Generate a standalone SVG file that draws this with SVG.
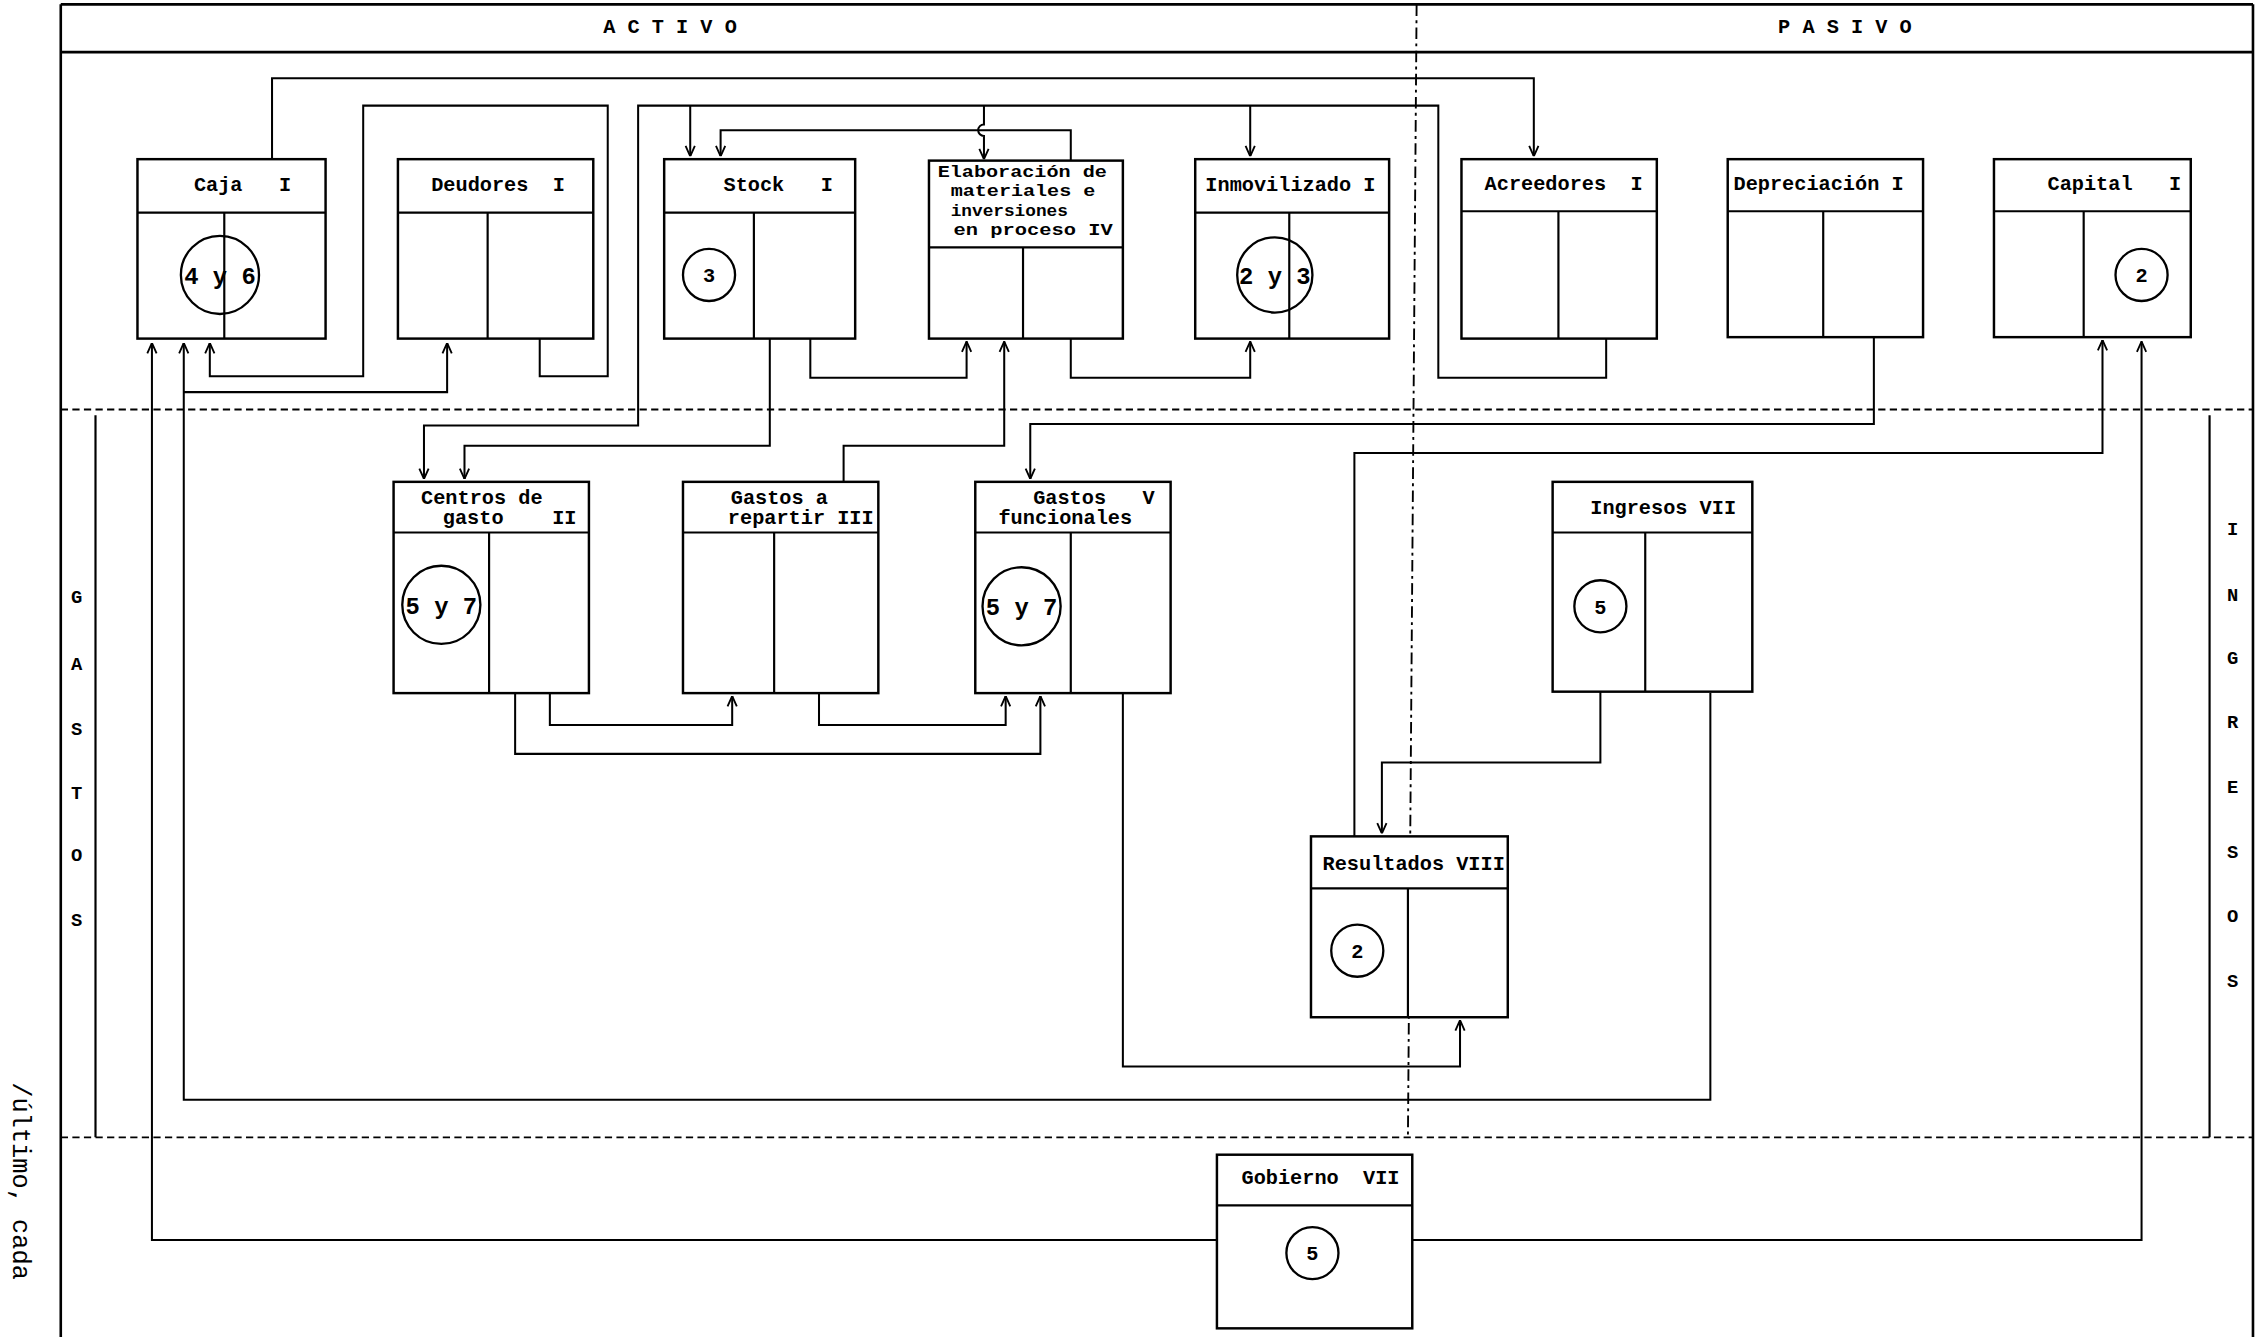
<svg xmlns="http://www.w3.org/2000/svg" width="2262" height="1337" viewBox="0 0 2262 1337">
<defs>
<style>
.frame{fill:none;stroke:#000;stroke-width:1.8}
.dash{fill:none;stroke:#000;stroke-width:1.3;stroke-dasharray:5 3}
.dashdot{fill:none;stroke:#000;stroke-width:1.3;stroke-dasharray:8 3 2 3}
.box{fill:#fff;stroke:#000;stroke-width:1.7}
.in{fill:none;stroke:#000;stroke-width:1.5}
.ln{fill:none;stroke:#000;stroke-width:1.4;marker-end:url(#ah)}
.cir{fill:none;stroke:#000;stroke-width:1.6}
.t{font-family:"Liberation Mono","DejaVu Sans Mono",monospace;font-weight:bold;font-size:14px;fill:#000;white-space:pre}
.e{font-family:"Liberation Mono","DejaVu Sans Mono",monospace;font-weight:bold;font-size:11.5px;fill:#000;white-space:pre}
.h{font-family:"Liberation Mono","DejaVu Sans Mono",monospace;font-weight:bold;font-size:14px;fill:#000;text-anchor:middle;white-space:pre}
.v{font-family:"Liberation Mono","DejaVu Sans Mono",monospace;font-weight:bold;font-size:13px;fill:#000;text-anchor:middle}
.cb{font-family:"Liberation Mono","DejaVu Sans Mono",monospace;font-weight:bold;font-size:16.5px;fill:#000;text-anchor:middle;white-space:pre}
.cs{font-family:"Liberation Mono","DejaVu Sans Mono",monospace;font-weight:bold;font-size:14px;fill:#000;text-anchor:middle}
.side{font-family:"Liberation Mono","DejaVu Sans Mono",monospace;font-size:17.5px;fill:#000;white-space:pre}
</style>
<marker id="ah" viewBox="0 0 10 10" refX="10" refY="5" markerWidth="8" markerHeight="8" orient="auto" markerUnits="userSpaceOnUse">
<path d="M1,1 L10,5 L1,9" fill="none" stroke="#000" stroke-width="1.6"/>
</marker>
</defs>
<rect width="2262" height="1337" fill="#fff"/>
<g transform="scale(1.447)">
<g id="frame">
<path class="frame" d="M42,3 H1557 M42,36 H1557 M42,3 V924 M1557,3 V924"/>
<path class="dash" d="M42,283 H1557 M42,786 H1557"/>
<path class="dashdot" d="M979,3 L973,786"/>
<path class="in" d="M66,287 V786 M1527,287 V786"/>
<text class="h" x="463" y="23">A C T I V O</text>
<text class="h" x="1275" y="23">P A S I V O</text>
<text class="v" x="53" y="417">G</text>
<text class="v" x="53" y="463">A</text>
<text class="v" x="53" y="508">S</text>
<text class="v" x="53" y="552">T</text>
<text class="v" x="53" y="595">O</text>
<text class="v" x="53" y="640">S</text>
<text class="v" x="1543" y="370">I</text>
<text class="v" x="1543" y="415">N</text>
<text class="v" x="1543" y="459">G</text>
<text class="v" x="1543" y="503">R</text>
<text class="v" x="1543" y="548">E</text>
<text class="v" x="1543" y="593">S</text>
<text class="v" x="1543" y="637">O</text>
<text class="v" x="1543" y="682">S</text>
<text class="side" transform="translate(9,748) rotate(90)">/último, cada</text>
</g>
<g id="connectors">
<path class="ln" d="M188,110 V54 H1060 V108"/>
<path class="ln" d="M373,234 V260 H420 V73 H251 V260 H145 V237"/>
<path class="ln" d="M1182,479 V760 H127 V237"/>
<path class="ln" d="M127,271 H309 V237"/>
<path class="ln" d="M841,857 H105 V237"/>
<path class="ln" d="M976,857 H1480 V236"/>
<path class="ln" d="M1110,234 V261 H994 V73 H441 V294 H293 V331"/>
<path class="ln" d="M477,73 V108"/>
<path class="ln" d="M680,73 V86 A4,4 0 0 0 680,94 V110"/>
<path class="ln" d="M864,73 V108"/>
<path class="ln" d="M740,112 V90 H498 V108"/>
<path class="ln" d="M560,234 V261 H668 V236"/>
<path class="ln" d="M740,234 V261 H864 V236"/>
<path class="ln" d="M532,234 V308 H321 V331"/>
<path class="ln" d="M583,333 V308 H694 V236"/>
<path class="ln" d="M1295,233 V293 H712 V331"/>
<path class="ln" d="M936,578 V313 H1453 V235"/>
<path class="ln" d="M1106,478 V527 H955 V576"/>
<path class="ln" d="M776,479 V737 H1009 V705"/>
<path class="ln" d="M380,479 V501 H506 V481"/>
<path class="ln" d="M356,479 V521 H719 V481"/>
<path class="ln" d="M566,479 V501 H695 V481"/>
</g>
<g id="caja">
<rect class="box" x="95" y="110" width="130" height="124"/>
<path class="in" d="M95,147 H225 M155,147 V234"/>
<text class="t" x="134" y="132">Caja   I</text>
<circle class="cir" cx="152" cy="190" r="27"/>
<text class="cb" x="152" y="196">4 y 6</text>
</g>
<g id="deudores">
<rect class="box" x="275" y="110" width="135" height="124"/>
<path class="in" d="M275,147 H410 M337,147 V234"/>
<text class="t" x="298" y="132">Deudores  I</text>
</g>
<g id="stock">
<rect class="box" x="459" y="110" width="132" height="124"/>
<path class="in" d="M459,147 H591 M521,147 V234"/>
<text class="t" x="500" y="132">Stock   I</text>
<circle class="cir" cx="490" cy="190" r="18"/>
<text class="cs" x="490" y="195">3</text>
</g>
<g id="elaboracion">
<rect class="box" x="642" y="111" width="134" height="123"/>
<path class="in" d="M642,171 H776 M707,171 V234"/>
<text class="e" x="648" y="122" textLength="117" lengthAdjust="spacingAndGlyphs">Elaboración de</text>
<text class="e" x="657" y="135.5" textLength="100" lengthAdjust="spacingAndGlyphs">materiales e</text>
<text class="e" x="657" y="149" textLength="81" lengthAdjust="spacingAndGlyphs">inversiones</text>
<text class="e" x="659" y="162.5" textLength="110" lengthAdjust="spacingAndGlyphs">en proceso IV</text>
</g>
<g id="inmovilizado">
<rect class="box" x="826" y="110" width="134" height="124"/>
<path class="in" d="M826,147 H960 M891,147 V234"/>
<text class="t" x="833" y="132">Inmovilizado I</text>
<circle class="cir" cx="881" cy="190" r="26"/>
<text class="cb" x="881" y="196">2 y 3</text>
</g>
<g id="acreedores">
<rect class="box" x="1010" y="110" width="135" height="124"/>
<path class="in" d="M1010,146 H1145 M1077,146 V234"/>
<text class="t" x="1026" y="131">Acreedores  I</text>
</g>
<g id="depreciacion">
<rect class="box" x="1194" y="110" width="135" height="123"/>
<path class="in" d="M1194,146 H1329 M1260,146 V233"/>
<text class="t" x="1198" y="131">Depreciación I</text>
</g>
<g id="capital">
<rect class="box" x="1378" y="110" width="136" height="123"/>
<path class="in" d="M1378,146 H1514 M1440,146 V233"/>
<text class="t" x="1415" y="131">Capital   I</text>
<circle class="cir" cx="1480" cy="190" r="18"/>
<text class="cs" x="1480" y="195">2</text>
</g>
<g id="centros">
<rect class="box" x="272" y="333" width="135" height="146"/>
<path class="in" d="M272,368 H407 M338,368 V479"/>
<text class="t" x="291" y="348">Centros de</text>
<text class="t" x="306" y="362">gasto    II</text>
<circle class="cir" cx="305" cy="418" r="27"/>
<text class="cb" x="305" y="424">5 y 7</text>
</g>
<g id="repartir">
<rect class="box" x="472" y="333" width="135" height="146"/>
<path class="in" d="M472,368 H607 M535,368 V479"/>
<text class="t" x="505" y="348">Gastos a</text>
<text class="t" x="503" y="362">repartir III</text>
</g>
<g id="funcionales">
<rect class="box" x="674" y="333" width="135" height="146"/>
<path class="in" d="M674,368 H809 M740,368 V479"/>
<text class="t" x="714" y="348">Gastos   V</text>
<text class="t" x="690" y="362">funcionales</text>
<circle class="cir" cx="706" cy="419" r="27"/>
<text class="cb" x="706" y="425">5 y 7</text>
</g>
<g id="ingresos">
<rect class="box" x="1073" y="333" width="138" height="145"/>
<path class="in" d="M1073,368 H1211 M1137,368 V478"/>
<text class="t" x="1099" y="355">Ingresos VII</text>
<circle class="cir" cx="1106" cy="419" r="18"/>
<text class="cs" x="1106" y="424">5</text>
</g>
<g id="resultados">
<rect class="box" x="906" y="578" width="136" height="125"/>
<path class="in" d="M906,614 H1042 M973,614 V703"/>
<text class="t" x="914" y="601">Resultados VIII</text>
<circle class="cir" cx="938" cy="657" r="18"/>
<text class="cs" x="938" y="662">2</text>
</g>
<g id="gobierno">
<rect class="box" x="841" y="798" width="135" height="120"/>
<path class="in" d="M841,833 H976"/>
<text class="t" x="858" y="818">Gobierno  VII</text>
<circle class="cir" cx="907" cy="866" r="18"/>
<text class="cs" x="907" y="871">5</text>
</g>
</g>
</svg>
